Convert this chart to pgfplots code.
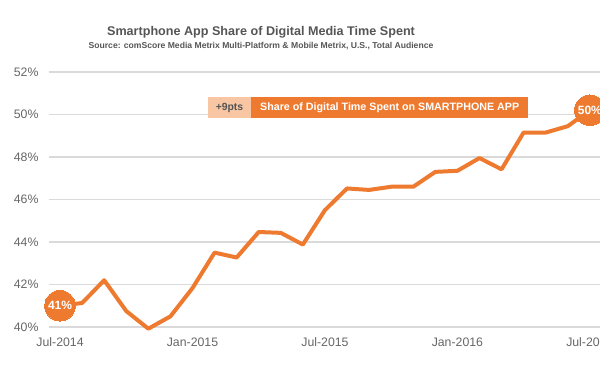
\documentclass[border=0pt]{standalone}
\usepackage{pgfplots}
\pgfplotsset{compat=1.18}
\usepackage{fontspec}
\setmainfont{Liberation Sans}
\definecolor{org}{HTML}{EE7A30}
\definecolor{peach}{HTML}{F8C6A2}
\definecolor{gridc}{HTML}{DADADA}
\definecolor{tickc}{HTML}{666666}
\definecolor{titc}{HTML}{555555}
\begin{document}
\begin{tikzpicture}[x=1pt,y=1pt]
\begin{axis}[
  at={(49pt,45pt)}, anchor=south west,
  scale only axis, width=551pt, height=255pt,
  xmin=-0.5, xmax=24.46, ymin=40, ymax=52,
  axis line style={draw=none},
  ymajorgrids, major grid style={gridc, line width=1.3pt},
  ytick={40,42,...,52},
  yticklabel={\pgfmathprintnumber{\tick}\%},
  xtick={0,6,12,18,24},
  xticklabels={Jul-2014,Jan-2015,Jul-2015,Jan-2016,Jul-2016},
  major tick length=0pt,
  tick label style={font=\fontsize{12.3}{14}\selectfont, text=tickc},
  yticklabel style={xshift=-7pt},
  xticklabel style={yshift=-7pt},
  /pgf/number format/assume math mode=true,
  clip=false,
]
\addplot[org, line width=4pt, line join=round] coordinates {
(0,41) (1,41.13) (2,42.2) (3,40.75) (4,39.92) (5,40.5) (6,41.83) (7,43.5)
(8,43.27) (9,44.47) (10,44.43) (11,43.88) (12,45.5) (13,46.52) (14,46.45)
(15,46.6) (16,46.6) (17,47.3) (18,47.35) (19,47.95) (20,47.42) (21,49.15)
(22,49.15) (23,49.45) (24,50.2)};
\addplot[org, only marks, mark=*, mark size=15.3pt, mark options={fill=org, draw=org, line width=0pt}]
  coordinates {(0,41) (24,50.2)};
\coordinate (c1) at (axis cs:0,41);
\coordinate (c2) at (axis cs:24,50.2);
\end{axis}
\node[font=\bfseries\fontsize{12}{14}\selectfont, text=white] at (c1) {41\%};
\node[font=\bfseries\fontsize{12}{14}\selectfont, text=white] at (c2) {50\%};
\node[font=\bfseries\fontsize{12.6}{14}\selectfont, text=titc] at (261,340) {Smartphone App Share of Digital Media Time Spent};
\node[font=\bfseries\fontsize{8.6}{10}\selectfont, text=titc] at (261,326) {Source: comScore Media Metrix Multi-Platform \& Mobile Metrix, U.S., Total Audience};
\fill[peach] (208,254) rectangle (251,275);
\fill[org] (251,254) rectangle (528,275);
\node[font=\bfseries\fontsize{10.4}{12}\selectfont, text=titc] at (229.5,264.5) {+9pts};
\node[font=\bfseries\fontsize{10.7}{12}\selectfont, text=white, anchor=west, inner sep=0pt] at (260,264.5) {Share of Digital Time Spent on SMARTPHONE APP};
\pgfresetboundingbox
\path[use as bounding box] (0,0) rectangle (600,372);
\end{tikzpicture}
\end{document}
